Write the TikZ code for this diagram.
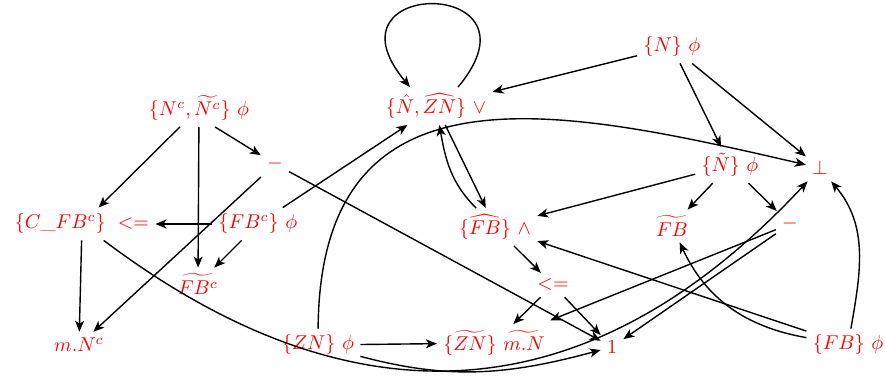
\documentclass[tikz,border=0pt]{standalone}
\usetikzlibrary{arrows.meta}
\begin{document}
\begin{tikzpicture}[x=0.5pt,y=0.5pt,
  lbl/.style={text=red, inner sep=3pt},
  arr/.style={-{Stealth[length=5.5pt,width=4.5pt,inset=1.5pt]}, line width=0.7pt}]
\useasboundingbox (0,0) rectangle (885,379);
% nodes
\node[lbl] (N)     at (672,332) {$\{N\}\ \phi$};
\node[lbl] (hatN)  at (436,273) {$\{\hat{N},\widehat{ZN}\}\ \vee$};
\node[lbl] (NcT)   at (199,271) {$\{N^c,\widetilde{N^c}\}\ \phi$};
\node[lbl] (mA)    at (275,215) {$-$};
\node[lbl] (CFB)   at (82,155)  {$\{C\_FB^c\}\ <=$};
\node[lbl] (FBc)   at (258,155) {$\{FB^c\}\ \phi$};
\node[lbl] (FBct)  at (198,95)  {$\widetilde{FB^c}$};
\node[lbl] (mNc)   at (79,34)   {$m.N^c$};
\node[lbl] (ZN)    at (318,34)  {$\{ZN\}\ \phi$};
\node[lbl] (ZNt)   at (494,36)  {$\{\widetilde{ZN}\}\ \widetilde{m.N}$};
\node[lbl] (one)   at (612,32)  {$1$};
\node[lbl] (FBhat) at (495,152) {$\{\widehat{FB}\}\ \wedge$};
\node[lbl] (le)    at (553,94)  {$<=$};
\node[lbl] (tN)    at (730,214) {$\{\tilde{N}\}\ \phi$};
\node[lbl] (bot)   at (820,211) {$\perp$};
\node[lbl] (FBt)   at (672,153) {$\widetilde{FB}$};
\node[lbl] (mB)    at (790,155) {$-$};
\node[lbl] (FB)    at (848,34)  {$\{FB\}\ \phi$};
% edges
\draw[arr] ([xshift=11pt]hatN.north) .. controls +(50:72pt) and +(130:72pt) .. ([xshift=-13pt]hatN.north);
\draw[arr] (N) -- (hatN);
\draw[arr] (N) -- (tN);
\draw[arr] (N) -- (bot);
\draw[arr] (NcT) -- (CFB);
\draw[arr] (NcT) -- (FBct);
\draw[arr] ([xshift=8pt]NcT.south) -- (mA);
\draw[arr] (mA) -- (one);
\draw[arr] (mA) -- (mNc);
\draw[arr] (FBc) -- (CFB);
\draw[arr] (FBc) -- (FBct);
\draw[arr] (FBc) -- (hatN);
\draw[arr] (CFB) -- (mNc);
\draw[arr] (CFB) to[out=-37,in=-133,looseness=1.15] (bot);
\draw[arr] (ZN) -- (ZNt);
\draw[arr] (ZN) to[out=-15,in=-165] (one);
\draw[arr] (ZN) .. controls +(2,290) and +(-260,60) .. (bot);
\draw[arr] (hatN) -- (FBhat);
\draw[arr] (FBhat) to[out=135,in=-80] (hatN);
\draw[arr] (FBhat) -- (le);
\draw[arr] (le) -- (ZNt);
\draw[arr] (le) -- (one);
\draw[arr] (tN) -- (FBhat);
\draw[arr] (tN) -- (FBt);
\draw[arr] (tN) -- (mB);
\draw[arr, shorten >=5pt] (mB) -- (ZNt);
\draw[arr] (mB) -- (one);
\draw[arr] (FB) -- (FBhat);
\draw[arr] (FB) to[out=170,in=-65] (FBt);
\draw[arr] (FB) to[out=80,in=-50] (bot);
\end{tikzpicture}
\end{document}
